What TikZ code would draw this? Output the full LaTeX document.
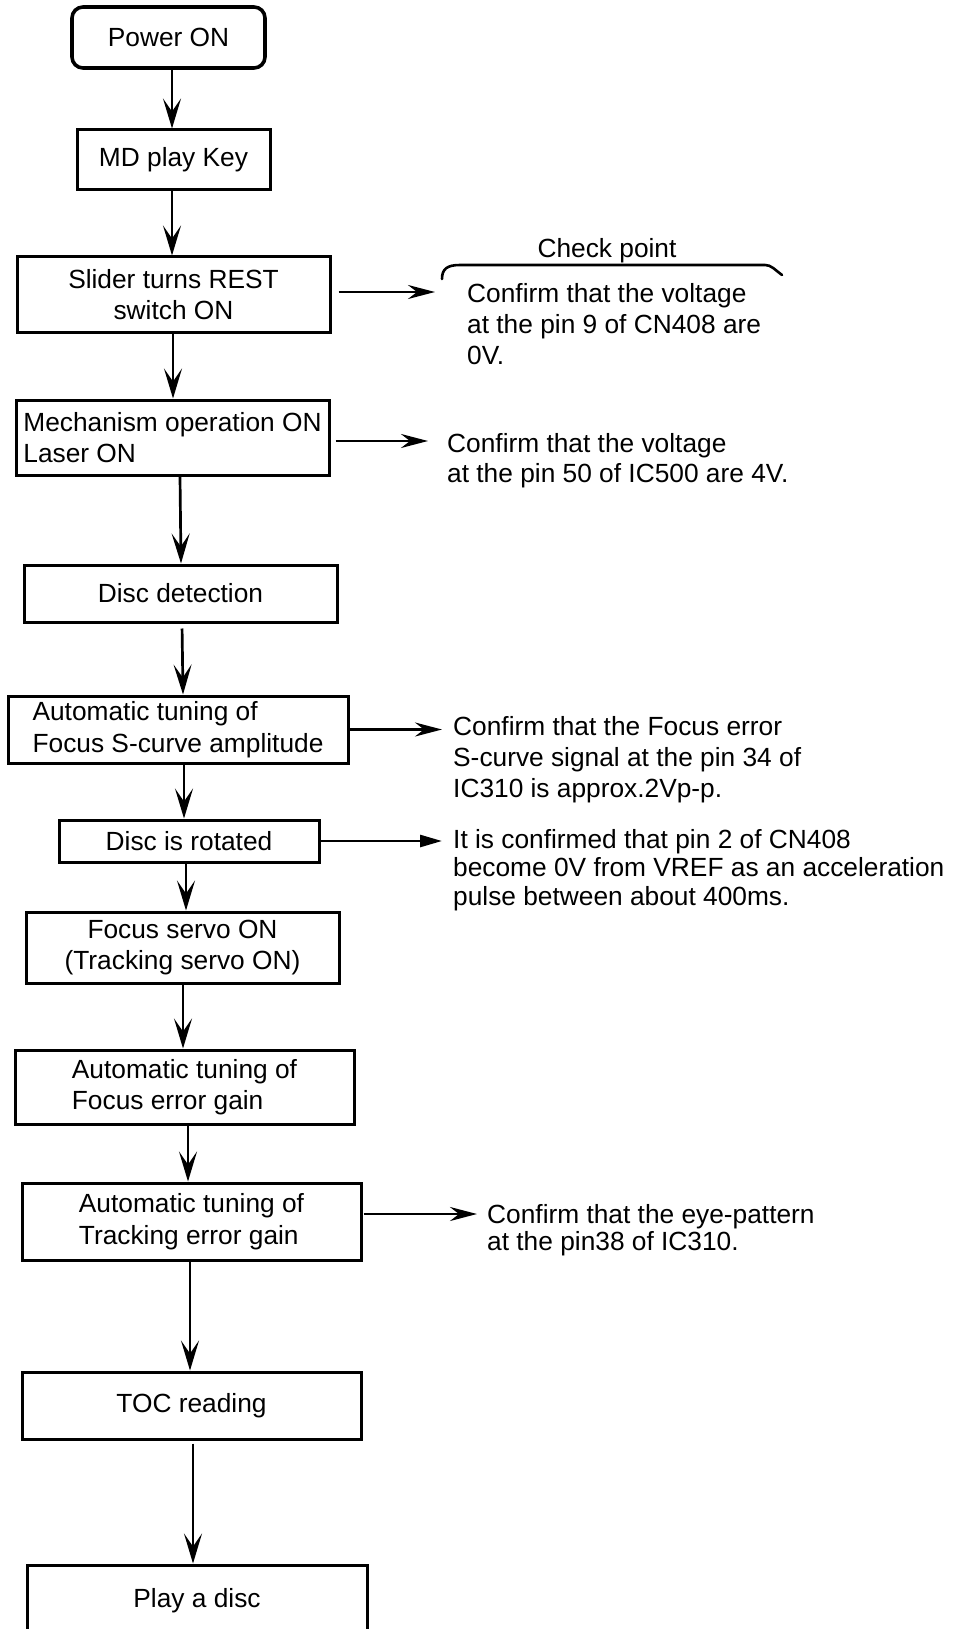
\documentclass[tikz,border=0pt]{standalone}
\usepackage{fontspec}
\setmainfont{Liberation Sans}
\usetikzlibrary{arrows.meta}
\newcommand\myfs{\fontsize{26.3}{31.5}\selectfont}
\newcommand\lines[2]{\vtop{\baselineskip=#1pt\relax #2}}
\begin{document}
\begin{tikzpicture}[x=1pt,y=-1pt,
  box/.style={draw, line width=3pt, inner sep=0pt, align=center, font=\myfs},
  lbox/.style={box, align=left},
  txt/.style={inner sep=0pt, anchor=base west, font=\myfs},
  varr/.style={line width=2.7pt, -{Stealth[length=30pt 0,width=18pt 0,inset=13pt 0]}},
  harr/.style={line width=2.7pt, -{Stealth[length=27pt 0,width=14pt 0,inset=9pt 0]}},
  tarr/.style={line width=2.7pt, -{Triangle[length=22pt 0,width=12pt 0]}}]
\useasboundingbox (0,0) rectangle (958,1629);
\fill[white] (0,0) rectangle (958,1629);

% flow boxes
\node[box, line width=3.6pt, rounded corners=11pt, minimum width=193pt, minimum height=61pt] (pw) at (168.5,37.5) {Power ON};
\node[box, minimum width=193pt, minimum height=60pt] (md) at (173.5,160) {MD play Key};
\node[box, minimum width=313pt, minimum height=75pt] (sl) at (173.5,294.5) {Slider turns REST\\switch ON};
\node[lbox, minimum width=313pt, minimum height=75pt] (me) at (172.5,437.5) {Mechanism operation ON\\Laser ON};
\node[box, minimum width=313pt, minimum height=57pt] (dd) at (180.5,593.5) {Disc detection};
\node[lbox, minimum width=340pt, minimum height=67pt] (fs) at (178,729.5) {Automatic tuning of\\Focus S-curve amplitude};
\node[box, minimum width=260pt, minimum height=42pt] (ro) at (189,841) {Disc is rotated};
\node[box, minimum width=313pt, minimum height=71pt] (sv) at (182.5,947.5) {Focus servo ON\\(Tracking servo ON)};
\node[lbox, minimum width=339pt, minimum height=74pt] (fe) at (184.5,1087) {Automatic tuning of\\Focus error gain};
\node[lbox, minimum width=339pt, minimum height=77pt] (tr) at (191.5,1221.5) {Automatic tuning of\\Tracking error gain};
\node[box, minimum width=339pt, minimum height=67pt] (toc) at (191.5,1405.5) {TOC reading};
\node[box, minimum width=340pt, minimum height=71pt] (pl) at (197,1600.5) {Play a disc};

% vertical connectors
\draw[varr] ([xshift=3.5pt]pw.south) -- ([xshift=-1.5pt]md.north);
\draw[varr] ([xshift=-1.5pt]md.south) -- ([xshift=-1.5pt]sl.north);
\draw[varr] ([xshift=-0.5pt]sl.south) -- ([xshift=0.5pt]me.north);
\draw[varr] ([xshift=7.5pt]me.south) -- ([xshift=0.5pt]dd.north);
\draw[varr, shorten <=5pt] ([xshift=1.5pt]dd.south) -- ([xshift=5pt]fs.north);
\draw[varr] ([xshift=6pt]fs.south) -- ([xshift=-5pt]ro.north);
\draw[varr] ([xshift=-3pt]ro.south) -- ([xshift=3.5pt]sv.north);
\draw[varr] ([xshift=0.5pt]sv.south) -- ([xshift=-1.5pt]fe.north);
\draw[varr] ([xshift=3.5pt]fe.south) -- ([xshift=-3.5pt]tr.north);
\draw[varr] ([xshift=-1.5pt]tr.south) -- ([xshift=-1.5pt]toc.north);
\draw[varr, shorten <=3pt] ([xshift=1.5pt]toc.south) -- ([xshift=-4pt]pl.north);

% check-point texts
\node[inner sep=0pt, anchor=base, font=\myfs] (ckh) at (607,258) {Check point};
\draw[line width=2.6pt, line cap=round] (442,279) .. controls (442,269) and (447,265) .. (460,265) -- (765,265) .. controls (771,265) and (774,269) .. (782,275);
\node[txt] (c1) at (467,302) {\lines{31}{\hbox{Confirm that the voltage}\hbox{at the pin 9 of CN408 are}\hbox{0V.}}};
\node[txt] (c2) at (447,452) {\lines{30}{\hbox{Confirm that the voltage}\hbox{at the pin 50 of IC500 are 4V.}}};
\node[txt] (c3) at (453,735) {\lines{31}{\hbox{Confirm that the Focus error}\hbox{S-curve signal at the pin 34 of}\hbox{IC310 is approx.2Vp-p.}}};
\node[txt] (c4) at (453,848) {\lines{28.5}{\hbox{It is confirmed that pin 2 of CN408}\hbox{become 0V from VREF as an acceleration}\hbox{pulse between about 400ms.}}};
\node[txt] (c5) at (487,1223) {\lines{27.5}{\hbox{Confirm that the eye-pattern}\hbox{at the pin38 of IC310.}}};

% horizontal connectors
\coordinate (t1) at (435,292);
\coordinate (t2) at (428,441);
\coordinate (t3) at (442,729.5);
\coordinate (t4) at (442,841);
\coordinate (t5) at (477,1214);
\draw[harr] ([xshift=7pt,yshift=2.5pt]sl.east) -- (t1);
\draw[harr] ([xshift=5pt,yshift=-3.5pt]me.east) -- (t2);
\draw[harr] (fs.east) -- (t3);
\draw[tarr] (ro.east) -- (t4);
\draw[harr] ([xshift=1pt,yshift=7.5pt]tr.east) -- (t5);
\end{tikzpicture}
\end{document}
